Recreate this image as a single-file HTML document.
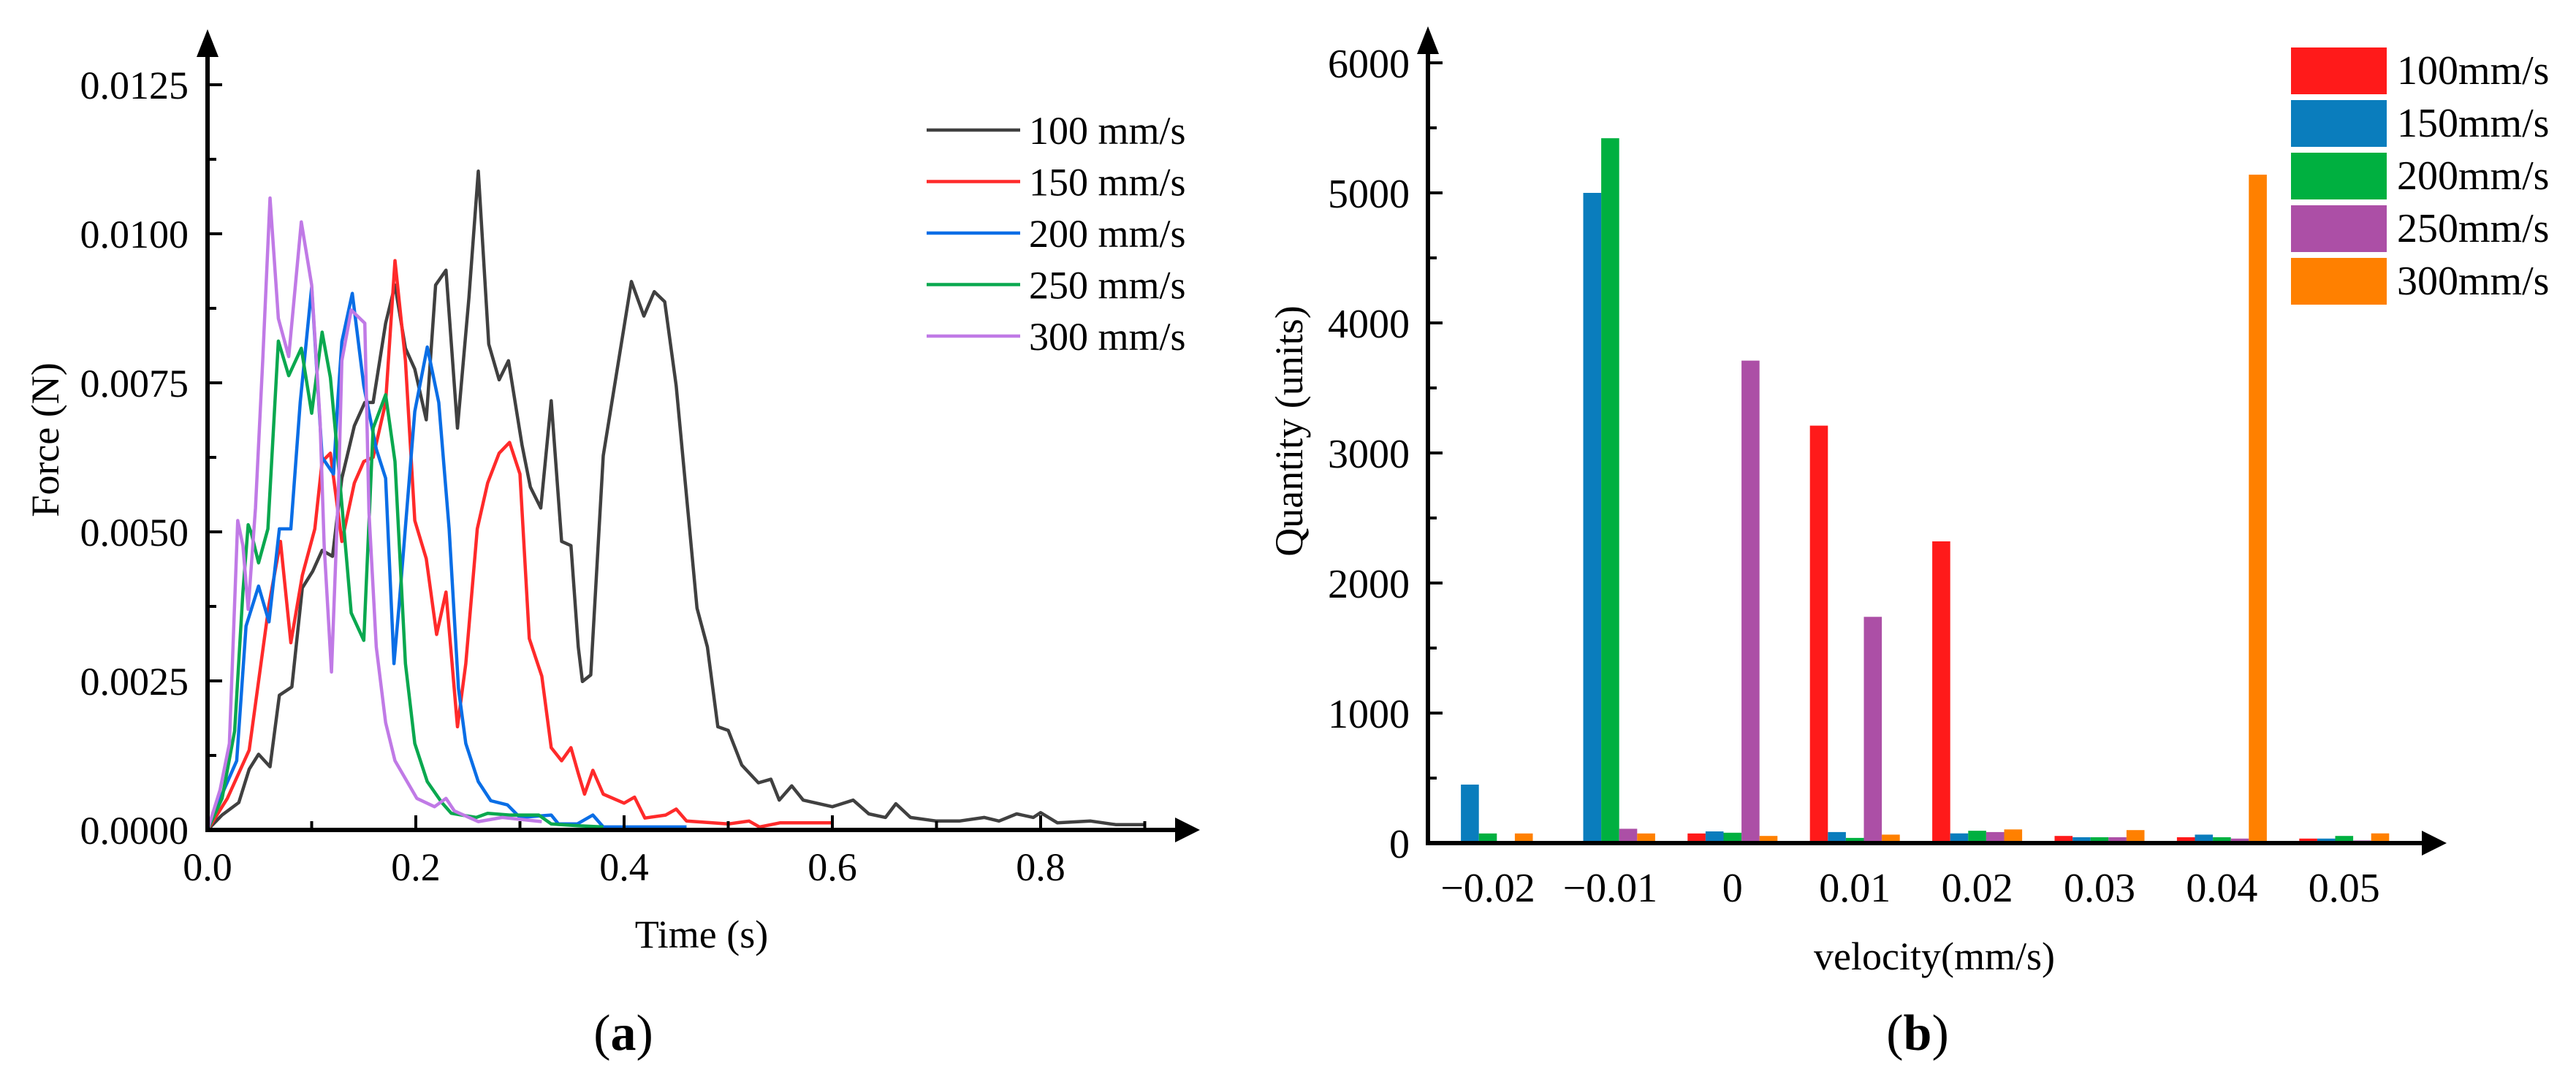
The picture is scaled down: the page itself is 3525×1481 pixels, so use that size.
<!DOCTYPE html>
<html><head><meta charset="utf-8"><style>
html,body{margin:0;padding:0;background:#fff;}
svg{display:block;font-family:"Liberation Serif",serif;}
</style></head><body>
<svg id="fig" width="3525" height="1481" viewBox="0 0 3525 1481" xmlns="http://www.w3.org/2000/svg">
<g id="left"></g>
<g id="right"></g>
</svg>
<script>
// ---------- Chart (a) data ----------
const forceSeriesNames = ["100 mm/s","150 mm/s","200 mm/s","250 mm/s","300 mm/s"];
const forceColors = ["#404040","#ff2a2a","#0a6ee6","#0aa84f","#c07ae6"];
const xTicksA = [0.0,0.2,0.4,0.6,0.8];
const yTicksA = [0.0000,0.0025,0.0050,0.0075,0.0100,0.0125];
// [time s, force mN]
const s100 = [[0,0],[.014,.25],[.030,.46],[.040,1.02],[.049,1.27],[.060,1.06],[.069,2.26],[.081,2.4],[.091,4.06],[.101,4.34],[.110,4.69],[.120,4.59],[.129,5.9],[.141,6.78],[.151,7.17],[.159,7.17],[.171,8.5],[.180,9.14],[.190,8.08],[.199,7.73],[.210,6.88],[.219,9.14],[.229,9.39],[.240,6.74],[.251,8.93],[.260,11.05],[.270,8.15],[.280,7.55],[.289,7.87],[.302,6.46],[.310,5.75],[.320,5.4],[.330,7.2],[.340,4.84],[.349,4.77],[.356,3.07],[.360,2.49],[.368,2.6],[.380,6.28],[.407,9.2],[.419,8.62],[.429,9.03],[.439,8.86],[.450,7.45],[.470,3.72],[.480,3.07],[.490,1.73],[.500,1.67],[.513,1.09],[.529,.79],[.541,.85],[.549,.5],[.561,.74],[.572,.5],[.600,.39],[.620,.5],[.635,.27],[.651,.21],[.661,.44],[.675,.21],[.700,.15],[.722,.15],[.746,.21],[.760,.15],[.777,.27],[.793,.21],[.800,.29],[.816,.12],[.848,.15],[.872,.09],[.900,.09]];
const s150 = [[0,0],[.019,.53],[.040,1.34],[.059,3.78],[.070,4.84],[.080,3.14],[.091,4.27],[.103,5.05],[.110,6.18],[.118,6.32],[.129,4.84],[.141,5.82],[.150,6.18],[.159,6.25],[.171,7.17],[.180,9.55],[.190,7.87],[.199,5.19],[.210,4.55],[.220,3.28],[.229,3.99],[.240,1.73],[.248,2.79],[.259,5.05],[.269,5.82],[.280,6.32],[.290,6.5],[.300,5.97],[.309,3.21],[.321,2.58],[.330,1.38],[.340,1.16],[.349,1.38],[.356,.95],[.362,.6],[.370,1.0],[.380,.6],[.400,.45],[.410,.55],[.420,.2],[.440,.25],[.450,.35],[.460,.15],[.500,.1],[.520,.15],[.530,.05],[.550,.12],[.600,.12]];
const s200 = [[0,0],[.014,.6],[.028,1.16],[.037,3.42],[.049,4.09],[.059,3.49],[.069,5.05],[.080,5.05],[.089,7.17],[.100,9.1],[.110,6.25],[.121,5.97],[.125,7.17],[.129,8.19],[.139,9.0],[.150,7.45],[.162,6.39],[.171,5.9],[.179,2.79],[.184,3.78],[.199,7.02],[.211,8.1],[.222,7.17],[.232,5.05],[.241,2.37],[.248,1.45],[.260,.81],[.272,.49],[.288,.42],[.300,.21],[.330,.25],[.337,.1],[.355,.1],[.370,.25],[.380,.05],[.460,.05]];
const s250 = [[0,0],[.014,.53],[.026,1.66],[.034,3.99],[.039,5.12],[.042,4.98],[.049,4.48],[.058,5.05],[.068,8.2],[.078,7.62],[.090,8.08],[.100,6.99],[.110,8.35],[.118,7.59],[.124,6.46],[.131,5.05],[.138,3.64],[.150,3.18],[.159,6.74],[.171,7.3],[.180,6.18],[.190,2.79],[.199,1.45],[.211,.81],[.225,.46],[.234,.28],[.258,.21],[.269,.28],[.290,.25],[.318,.25],[.330,.1],[.356,.07],[.380,.05]];
const s300 = [[0,0],[.012,.67],[.021,1.45],[.029,5.19],[.034,4.77],[.039,3.7],[.046,5.4],[.053,7.87],[.060,10.6],[.068,8.58],[.078,7.94],[.090,10.2],[.100,9.14],[.108,6.88],[.112,4.77],[.119,2.65],[.126,5.9],[.129,7.87],[.138,8.72],[.151,8.5],[.155,5.33],[.162,3.07],[.171,1.8],[.180,1.16],[.201,.53],[.218,.39],[.229,.53],[.237,.32],[.260,.14],[.283,.21],[.321,.14]];
const forceSeries = [s100,s150,s200,s250,s300];

// ---------- Chart (b) data ----------
const velCategories = ["\u22120.02","\u22120.01","0","0.01","0.02","0.03","0.04","0.05"];
const barSeriesNames = ["100mm/s","150mm/s","200mm/s","250mm/s","300mm/s"];
const barColors = ["#ff1a1a","#0a7dbd","#00b040","#ac4fa6","#ff8000"];
const q100 = [0,0,74,3210,2320,55,45,35];
const q150 = [450,5000,90,85,75,45,65,35];
const q200 = [74,5420,80,40,95,45,45,55];
const q250 = [0,110,3710,1740,85,45,35,20];
const q300 = [74,74,55,65,105,100,5140,75];
const barSeries = [q100,q150,q200,q250,q300];
const yTicksB = [0,1000,2000,3000,4000,5000,6000];

const NS="http://www.w3.org/2000/svg";
function mk(tag,parent,attrs){const e=document.createElementNS(NS,tag);for(const k in attrs)e.setAttribute(k,attrs[k]);parent.appendChild(e);return e;}

// ===== Chart (a) =====
const L=document.getElementById('left');
const ax0=284, ay0=1136, pxPerT=285/0.2, pxPerF=204/0.0025;
const xA=t=>ax0+t*pxPerT, yA=f=>ay0-f*pxPerF;
forceSeries.forEach((s,i)=>{
  const p=mk('polyline',L,{points:s.map(d=>xA(d[0]).toFixed(1)+','+yA(d[1]/1000).toFixed(1)).join(' '),fill:'none',stroke:forceColors[i],'stroke-width':4.5,'stroke-linejoin':'round'});
  
  
});
// axes
let e=mk('line',L,{x1:ax0,y1:ay0,x2:1612,y2:ay0,stroke:'#000','stroke-width':6});

e=mk('polygon',L,{points:`1642,${ay0} 1608,${ay0-17} 1608,${ay0+17}`,fill:'#000'});

e=mk('line',L,{x1:ax0,y1:ay0+3,x2:ax0,y2:70,stroke:'#000','stroke-width':6});

e=mk('polygon',L,{points:`${ax0},40 ${ax0-15},78 ${ax0+15},78`,fill:'#000'});

yTicksA.forEach((v,i)=>{
  const y=yA(v);
  if(i>0){mk('line',L,{x1:ax0,y1:y,x2:ax0+20,y2:y,stroke:'#000','stroke-width':4});}
  if(i<yTicksA.length-1){const ym=yA(v+0.00125);mk('line',L,{x1:ax0,y1:ym,x2:ax0+12,y2:ym,stroke:'#000','stroke-width':4});}
  const t=mk('text',L,{x:258,y:y+19,'font-size':54,'text-anchor':'end'});t.textContent=v.toFixed(4);
  
});
xTicksA.forEach((v,i)=>{
  const x=xA(v);
  if(i>0)mk('line',L,{x1:x,y1:ay0,x2:x,y2:ay0-20,stroke:'#000','stroke-width':4});
  mk('line',L,{x1:xA(v+0.1),y1:ay0,x2:xA(v+0.1),y2:ay0-12,stroke:'#000','stroke-width':4});
  const t=mk('text',L,{x:x,y:1205,'font-size':54,'text-anchor':'middle'});t.textContent=v.toFixed(1);
  
});
e=mk('text',L,{x:960,y:1297,'font-size':54,'text-anchor':'middle'});e.textContent='Time (s)';

e=mk('text',L,{x:0,y:0,'font-size':54,'text-anchor':'middle',transform:'translate(80,602) rotate(-90)'});e.textContent='Force (N)';

e=mk('text',L,{x:853,y:1437,'font-size':70,'text-anchor':'middle'});e.innerHTML='(<tspan font-weight="bold">a</tspan>)';

forceSeriesNames.forEach((n,i)=>{
  const y=178+i*70.5;
  const g=mk('g',L,{});
  
  mk('line',g,{x1:1268,y1:y,x2:1396,y2:y,stroke:forceColors[i],'stroke-width':4.5});
  const t=mk('text',g,{x:1408,y:y+19,'font-size':54});t.textContent=n;
});

// ===== Chart (b) =====
const R=document.getElementById('right');
const bx0=1954, by0=1154, pxPerQ=178/1000, c0=2036, cStep=167.4, bw=24.6;
const yB=q=>by0-q*pxPerQ, xC=i=>c0+i*cStep;
barSeries.forEach((s,si)=>{
  s.forEach((v,ci)=>{
    if(v<=0)return;
    const x=xC(ci)-2.5*bw+si*bw;
    const r=mk('rect',R,{x:x.toFixed(1),y:yB(v).toFixed(1),width:bw,height:(v*pxPerQ).toFixed(1),fill:barColors[si]});
    
    
  });
});
e=mk('line',R,{x1:bx0,y1:by0,x2:3318,y2:by0,stroke:'#000','stroke-width':6});

e=mk('polygon',R,{points:`3348,${by0} 3314,${by0-17} 3314,${by0+17}`,fill:'#000'});

e=mk('line',R,{x1:bx0,y1:by0+3,x2:bx0,y2:68,stroke:'#000','stroke-width':6});

e=mk('polygon',R,{points:`${bx0},36 ${bx0-15},74 ${bx0+15},74`,fill:'#000'});

yTicksB.forEach((v,i)=>{
  const y=yB(v);
  if(i>0)mk('line',R,{x1:bx0,y1:y,x2:bx0+20,y2:y,stroke:'#000','stroke-width':4});
  if(i<yTicksB.length-1){const ym=yB(v+500);mk('line',R,{x1:bx0,y1:ym,x2:bx0+12,y2:ym,stroke:'#000','stroke-width':4});}
  const t=mk('text',R,{x:1929,y:y+20,'font-size':56,'text-anchor':'end'});t.textContent=v;
  
});
velCategories.forEach((c,i)=>{
  const t=mk('text',R,{x:xC(i),y:1234,'font-size':56,'text-anchor':'middle'});t.textContent=c;
  
});
e=mk('text',R,{x:2647,y:1327,'font-size':54,'text-anchor':'middle'});e.textContent='velocity(mm/s)';

e=mk('text',R,{x:0,y:0,'font-size':54,'text-anchor':'middle',transform:'translate(1782,590) rotate(-90)'});e.textContent='Quantity (units)';

e=mk('text',R,{x:2624,y:1437,'font-size':70,'text-anchor':'middle'});e.innerHTML='(<tspan font-weight="bold">b</tspan>)';

barSeriesNames.forEach((n,i)=>{
  const y=65+i*72;
  const g=mk('g',R,{});
  
  mk('rect',g,{x:3135,y:y,width:131,height:64,fill:barColors[i]});
  const t=mk('text',g,{x:3280,y:y+50,'font-size':56});t.textContent=n;
});
</script>
</body></html>
